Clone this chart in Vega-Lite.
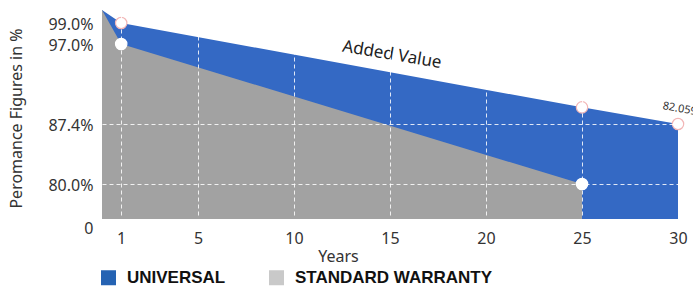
{
  "$schema": "https://vega.github.io/schema/vega-lite/v6.json",
  "width": 576,
  "height": 211,
  "autosize": "none",
  "padding": {"left": 102, "top": 8, "right": 15, "bottom": 67},
  "background": "white",
  "config": {"view": {"stroke": null}, "font": "Noto Sans"},
  "data": {"values": [
    {"series": "UNIVERSAL", "year": 0, "value": 100},
    {"series": "UNIVERSAL", "year": 1, "value": 99},
    {"series": "UNIVERSAL", "year": 25, "value": 89.4},
    {"series": "UNIVERSAL", "year": 30, "value": 87.4, "label": "82.059"},
    {"series": "STANDARD WARRANTY", "year": 0, "value": 100},
    {"series": "STANDARD WARRANTY", "year": 1, "value": 97},
    {"series": "STANDARD WARRANTY", "year": 25, "value": 80}
  ]},
  "encoding": {
    "x": {
      "field": "year", "type": "quantitative",
      "scale": {"domain": [0, 30], "nice": false, "zero": false},
      "axis": {
        "values": [1, 5, 10, 15, 20, 25, 30],
        "title": "Years",
        "domain": false, "ticks": false,
        "labelFontSize": 16, "labelColor": "#333", "labelPadding": 11, "labelFlush": false,
        "grid": true, "gridColor": "white", "gridDash": [4, 3], "gridWidth": 1,
        "gridOpacity": {"condition": {"test": "datum.value === 30", "value": 0}, "value": 0.85},
        "zindex": 1,
        "titleFontSize": 16, "titleFontWeight": "normal", "titleColor": "#333",
        "titleX": 236, "titleY": 37, "titleBaseline": "middle", "titleAlign": "center"
      }
    },
    "y": {
      "field": "value", "type": "quantitative", "stack": null,
      "scale": {"domain": [0, 80, 87.4, 97, 99, 100], "range": [211, 176, 116, 36, 15, 2], "nice": false, "zero": false},
      "axis": {
        "values": [0, 80, 87.4, 97, 99],
        "title": "Peromance Figures in %",
        "labelExpr": "datum.value === 0 ? '0' : format(datum.value, '.1f') + '%'",
        "domain": false, "ticks": false,
        "labelPadding": 9, "labelFontSize": 16, "labelColor": "#333",
        "labelOffset": {"condition": {"test": "datum.value === 0", "value": 9}, "value": 1},
        "labelOverlap": false,
        "grid": true, "gridColor": "white", "gridDash": [4, 3], "gridWidth": 1,
        "gridOpacity": {"condition": {"test": "datum.value === 80 || datum.value === 87.4", "value": 0.85}, "value": 0},
        "zindex": 1,
        "titleFontSize": 16, "titleFontWeight": "normal", "titleColor": "#333",
        "titleX": -86, "titleY": 110, "titleAngle": -90, "titleBaseline": "middle", "titleAlign": "center"
      }
    }
  },
  "layer": [
    {
      "transform": [{"filter": "datum.series === 'UNIVERSAL'"}],
      "mark": {"type": "area", "interpolate": "linear", "color": "#3469c4"}
    },
    {
      "transform": [{"filter": "datum.series !== 'UNIVERSAL'"}],
      "mark": {"type": "area", "interpolate": "linear", "color": "#a2a2a2"}
    },
    {
      "data": {"values": [{"entry": "UNIVERSAL"}, {"entry": "STANDARD WARRANTY"}]},
      "mark": {"type": "square", "filled": true, "opacity": 0},
      "encoding": {
        "color": {
          "field": "entry", "type": "nominal",
          "scale": {"domain": ["UNIVERSAL", "STANDARD WARRANTY"], "range": ["#2563b3", "#c9c9c9"]},
          "legend": {
            "title": null, "orient": "none", "legendX": -2, "legendY": 261,
            "direction": "horizontal", "symbolType": "square", "symbolSize": 225, "symbolStrokeWidth": 0, "symbolOpacity": 1,
            "labelFont": "Liberation Sans", "labelFontWeight": "bold", "labelFontSize": 17, "labelColor": "#111",
            "labelOffset": 10, "columnPadding": 42, "padding": 0, "labelLimit": 300
          }
        }
      }
    },
    {
      "transform": [{"filter": "datum.year > 0"}],
      "mark": {"type": "point", "filled": true, "fill": "white", "size": 130, "opacity": 1, "strokeWidth": 1.2},
      "encoding": {
        "stroke": {"condition": {"test": "datum.series === 'UNIVERSAL'", "value": "#f2b6b6"}, "value": "white"}
      }
    },
    {
      "transform": [{"filter": "datum.label"}],
      "mark": {"type": "text", "angle": 10, "fontSize": 11, "dx": -1, "dy": -15, "color": "#333", "align": "center", "baseline": "middle"},
      "encoding": {"text": {"field": "label"}}
    },
    {
      "data": {"values": [{"note": "Added Value", "year": 15.1, "value": 95.7}]},
      "mark": {"type": "text", "angle": 9.5, "fontSize": 17, "color": "#222", "align": "center", "baseline": "middle"},
      "encoding": {
        "text": {"field": "note", "type": "nominal"}
      }
    }
  ]
}
